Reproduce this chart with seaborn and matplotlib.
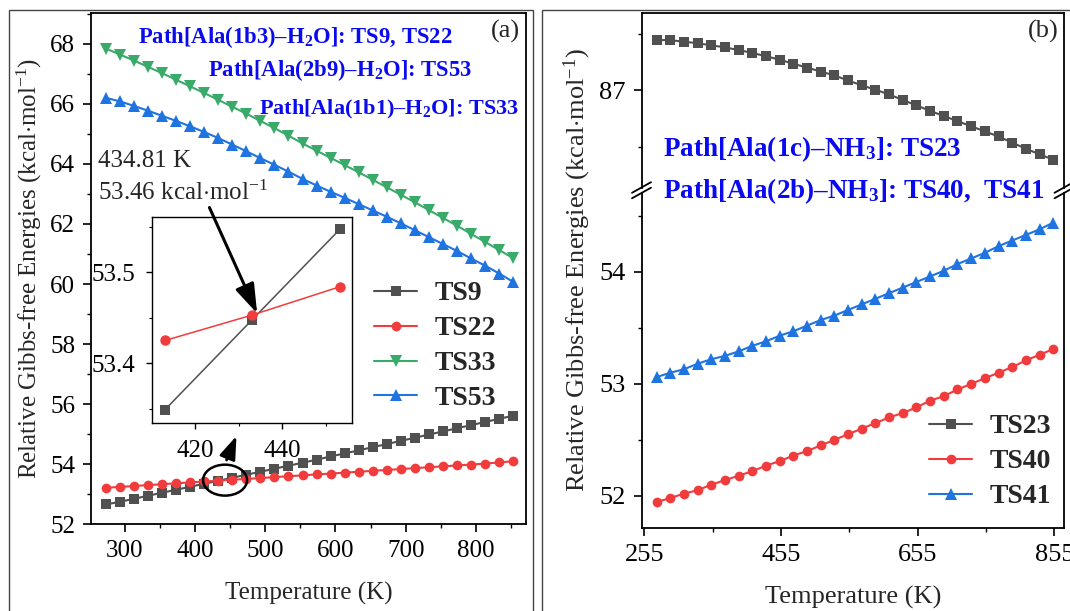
import matplotlib
matplotlib.use("Agg")
import matplotlib.pyplot as plt
import seaborn as sns
from matplotlib.patches import Ellipse, FancyArrowPatch, Rectangle
from matplotlib.lines import Line2D
from matplotlib.ticker import FixedLocator, MultipleLocator

# ---------------- data ----------------
temps = [273.15, 293.15, 313.15, 333.15, 353.15, 373.15, 393.15, 413.15, 433.15, 453.15,
         473.15, 493.15, 513.15, 533.15, 553.15, 573.15, 593.15, 613.15, 633.15, 653.15,
         673.15, 693.15, 713.15, 733.15, 753.15, 773.15, 793.15, 813.15, 833.15, 853.15]

ts9 = [52.66, 52.75, 52.85, 52.95, 53.05, 53.15, 53.25, 53.35, 53.45, 53.55,
       53.65, 53.75, 53.85, 53.95, 54.05, 54.15, 54.26, 54.36, 54.46, 54.57,
       54.67, 54.78, 54.88, 54.99, 55.09, 55.20, 55.30, 55.41, 55.51, 55.62]
ts22 = [53.215, 53.245, 53.275, 53.305, 53.335, 53.365, 53.395, 53.425, 53.453, 53.484,
        53.51, 53.54, 53.57, 53.60, 53.63, 53.66, 53.69, 53.72, 53.75, 53.78,
        53.81, 53.84, 53.87, 53.90, 53.93, 53.96, 53.99, 54.02, 54.06, 54.10]
ts33 = [67.84, 67.64, 67.44, 67.23, 67.02, 66.80, 66.58, 66.36, 66.13, 65.90,
        65.67, 65.43, 65.19, 64.94, 64.68, 64.44, 64.20, 63.96, 63.72, 63.47,
        63.22, 62.97, 62.72, 62.46, 62.20, 61.94, 61.67, 61.40, 61.13, 60.86]
ts53 = [66.20, 66.08, 65.93, 65.77, 65.60, 65.43, 65.25, 65.06, 64.86, 64.64,
        64.42, 64.19, 63.97, 63.74, 63.50, 63.28, 63.07, 62.87, 62.66, 62.45,
        62.24, 62.02, 61.79, 61.56, 61.33, 61.10, 60.85, 60.61, 60.35, 60.07]

inset_temps = [413.15, 433.15, 453.15]
inset_ts9 = [53.349, 53.448, 53.547]
inset_ts22 = [53.425, 53.453, 53.484]

ts23 = [87.448, 87.445, 87.433, 87.418, 87.400, 87.382, 87.358, 87.333, 87.303, 87.273,
        87.236, 87.203, 87.167, 87.133, 87.088, 87.045, 87.006, 86.964, 86.915, 86.867,
        86.818, 86.773, 86.727, 86.682, 86.636, 86.591, 86.536, 86.482, 86.433, 86.385]
ts40 = [51.945, 51.98, 52.02, 52.05, 52.10, 52.14, 52.18, 52.22, 52.27, 52.31,
        52.36, 52.40, 52.45, 52.50, 52.55, 52.60, 52.65, 52.70, 52.74, 52.79,
        52.85, 52.89, 52.95, 53.00, 53.05, 53.10, 53.15, 53.21, 53.26, 53.31]
ts41 = [53.06, 53.10, 53.13, 53.18, 53.22, 53.25, 53.29, 53.34, 53.38, 53.43,
        53.47, 53.52, 53.57, 53.61, 53.66, 53.71, 53.76, 53.81, 53.86, 53.91,
        53.96, 54.01, 54.07, 54.12, 54.17, 54.23, 54.28, 54.33, 54.38, 54.44]

left_xticks = [300, 400, 500, 600, 700, 800]
left_yticks = [52, 54, 56, 58, 60, 62, 64, 66, 68]
right_xticks = [255, 455, 655, 855]
right_low_yticks = [52, 53, 54]
right_up_yticks = [87]
inset_xticks = [420, 440]
inset_yticks = [53.4, 53.5]

# ---------------- style ----------------
sns.set_theme(style="ticks")
plt.rcParams["font.family"] = ["Liberation Serif", "DejaVu Serif"]
plt.rcParams["mathtext.fontset"] = "custom"
plt.rcParams["mathtext.rm"] = "Liberation Serif"
plt.rcParams["mathtext.it"] = "Liberation Serif:italic"
plt.rcParams["mathtext.bf"] = "Liberation Serif:bold"

GRAY = "#505050"
RED = "#f03c3c"
GREEN = "#3aaa6a"
BLUE = "#1f74e0"
TBLUE = "#0a0af0"

W, H = 1070, 611
fig = plt.figure(figsize=(W / 100, H / 100), dpi=100)


def fx(x):
    return x / W


def fy(y):
    return 1 - y / H


def rect(l, t, r, b):
    return [fx(l), fy(b), (r - l) / W, (b - t) / H]


def style_axes(ax, fs):
    for s in ax.spines.values():
        s.set_color("black")
        s.set_linewidth(1.3)
    ax.tick_params(which="major", length=5.5, width=1.2, labelsize=fs, pad=6,
                   direction="out", color="black", labelcolor="black")
    ax.tick_params(which="minor", length=3, width=1.0, direction="out", color="black")
    ax.set_xlabel("")
    ax.set_ylabel("")


def draw(ax, x, y, color, marker, ms, lw, label=None):
    sns.lineplot(x=x, y=y, ax=ax, color=color, marker=marker, markersize=ms,
                 markeredgewidth=0, linewidth=lw, label=label, legend=False,
                 errorbar=None)


LEG = dict(frameon=False, borderpad=0, borderaxespad=0, handlelength=1.55,
           handletextpad=0.62, labelspacing=0.34,
           prop={"family": "Liberation Serif", "weight": "bold", "size": 20})

# ---------------- panel (a) ----------------
axA = fig.add_axes(rect(91.3, 13.1, 526.2, 524.3))
draw(axA, temps, ts9, GRAY, "s", 6.5, 1.5, "TS9")
draw(axA, temps, ts22, RED, "o", 7.0, 1.5, "TS22")
draw(axA, temps, ts33, GREEN, "v", 8.0, 1.5, "TS33")
draw(axA, temps, ts53, BLUE, "^", 8.0, 1.5, "TS53")
axA.set_xlim(252.4, 871.6)
axA.set_ylim(52, 69.02)
axA.xaxis.set_major_locator(FixedLocator(left_xticks))
axA.xaxis.set_minor_locator(MultipleLocator(50))
axA.yaxis.set_major_locator(FixedLocator(left_yticks))
axA.yaxis.set_minor_locator(MultipleLocator(1))
style_axes(axA, 18)
axA.legend(loc="upper left", bbox_to_anchor=(fx(374), fy(281)),
           bbox_transform=fig.transFigure, **LEG)

axA.add_patch(Ellipse((442.8, 53.47), 62.6, 1.03, fill=False, lw=1.8, color="black", zorder=5))

# inset
axI = fig.add_axes(rect(151.7, 216.7, 351.7, 423.3))
draw(axI, inset_temps, inset_ts9, GRAY, "s", 7, 1.1)
draw(axI, inset_temps, inset_ts22, RED, "o", 7.5, 1.1)
axI.set_xlim(410.1, 455.9)
axI.set_ylim(53.334, 53.561)
axI.xaxis.set_major_locator(FixedLocator(inset_xticks))
axI.xaxis.set_minor_locator(MultipleLocator(10))
axI.yaxis.set_major_locator(FixedLocator(inset_yticks))
axI.yaxis.set_minor_locator(MultipleLocator(0.05))
style_axes(axI, 18)
for s in axI.spines.values():
    s.set_linewidth(1.0)
axI.tick_params(which="major", length=4, width=1.0, pad=8)
axI.tick_params(which="minor", length=2.5, width=0.8)
axI.set_facecolor("white")

# ---------------- panel (b) ----------------
xl, xr = 641.5, 1064
axU = fig.add_axes(rect(xl, 13, xr, 187.5))
axL = fig.add_axes(rect(xl, 192.5, xr, 528.2))
draw(axU, temps, ts23, GRAY, "s", 6.5, 1.5, "TS23")
draw(axL, temps, ts40, RED, "o", 7.0, 1.5, "TS40")
draw(axL, temps, ts41, BLUE, "^", 8.0, 1.5, "TS41")
for ax in (axU, axL):
    ax.set_xlim(251.1, 868.9)
    ax.xaxis.set_major_locator(FixedLocator(right_xticks))
    ax.xaxis.set_minor_locator(FixedLocator([355, 555, 755]))
    style_axes(ax, 19)
axU.set_ylim(86.138, 87.687)
axU.yaxis.set_major_locator(FixedLocator(right_up_yticks))
axU.yaxis.set_minor_locator(FixedLocator([86.5, 87.5]))
axU.spines["bottom"].set_visible(False)
axU.tick_params(axis="x", which="both", bottom=False, labelbottom=False)
axL.set_ylim(51.711, 54.709)
axL.yaxis.set_major_locator(FixedLocator(right_low_yticks))
axL.yaxis.set_minor_locator(MultipleLocator(0.5))
axL.spines["top"].set_visible(False)

hU, lU = axU.get_legend_handles_labels()
hL, lL = axL.get_legend_handles_labels()
axL.legend(hU + hL, lU + lL, loc="upper left", bbox_to_anchor=(fx(929), fy(414)),
           bbox_transform=fig.transFigure, **LEG)

# break marks
for sx in (xl, xr):
    for sy in (187.5, 193.0):
        fig.add_artist(Line2D([fx(sx - 9.5), fx(sx + 9.5)], [fy(sy + 5.3), fy(sy - 5.3)],
                              transform=fig.transFigure, color="black", lw=1.3))

# ---------------- texts ----------------
fig.text(fx(29), fy(268.5), r"Relative Gibbs-free Energies (kcal$\cdot$mol$^{-1}$)",
         rotation=90, ha="center", va="center", fontsize=18)
fig.text(fx(577.5), fy(270), r"Relative Gibbs-free Energies (kcal$\cdot$mol$^{-1}$)",
         rotation=90, ha="center", va="center", fontsize=19)
fig.text(fx(308.5), fy(593), "Temperature (K)", ha="center", va="center", fontsize=18)
fig.text(fx(853), fy(597), "Temperature (K)", ha="center", va="center", fontsize=19)

fig.text(fx(520), fy(31), "(a)", ha="right", va="center", fontsize=19)
fig.text(fx(1059), fy(31), "(b)", ha="right", va="center", fontsize=19)

bkw = dict(ha="left", va="baseline", fontweight="bold", color=TBLUE)
fig.text(fx(137.7), fy(43), r"Path[Ala(1b3)–H$_\mathbf{2}$O]: TS9, TS22", fontsize=16.3, **bkw)
fig.text(fx(208.3), fy(76.4), r"Path[Ala(2b9)–H$_\mathbf{2}$O]: TS53", fontsize=16.3, **bkw)
fig.text(fx(259), fy(114.7), r"Path[Ala(1b1)–H$_\mathbf{2}$O]: TS33", fontsize=16.0, **bkw)
fig.text(fx(663), fy(156.3), r"Path[Ala(1c)–NH$_\mathbf{3}$]: TS23", fontsize=19.5, **bkw)
fig.text(fx(663), fy(198), r"Path[Ala(2b)–NH$_\mathbf{3}$]: TS40,  TS41", fontsize=19.5,
         zorder=10, **bkw)

fig.text(fx(98.3), fy(166.7), "434.81 K", ha="left", va="baseline", fontsize=18)
fig.text(fx(98.3), fy(200), r"53.46 kcal$\cdot$mol$^{-1}$", ha="left", va="baseline", fontsize=18)

# arrows
fig.add_artist(FancyArrowPatch((fx(208.3), fy(205)), (fx(258.3), fy(316)),
                               transform=fig.transFigure, arrowstyle="-|>,head_length=0.9,head_width=0.3",
                               mutation_scale=20, lw=2.2, color="black", zorder=20))
fig.add_artist(FancyArrowPatch((fx(225.5), fy(462.6)), (fx(237.5), fy(433.5)),
                               transform=fig.transFigure, arrowstyle="-|>,head_length=0.7,head_width=0.25",
                               mutation_scale=20, lw=2.0, color="black", zorder=20))

# panel frames
fig.add_artist(Rectangle((fx(9), fy(620)), (533 - 9) / W, (620 - 10) / H, transform=fig.transFigure,
                         fill=False, ec="#444444", lw=1.0))
fig.add_artist(Rectangle((fx(542), fy(620)), (1075 - 542) / W, (620 - 10) / H, transform=fig.transFigure,
                         fill=False, ec="#444444", lw=1.0))

fig.savefig("out.png", dpi=100)
